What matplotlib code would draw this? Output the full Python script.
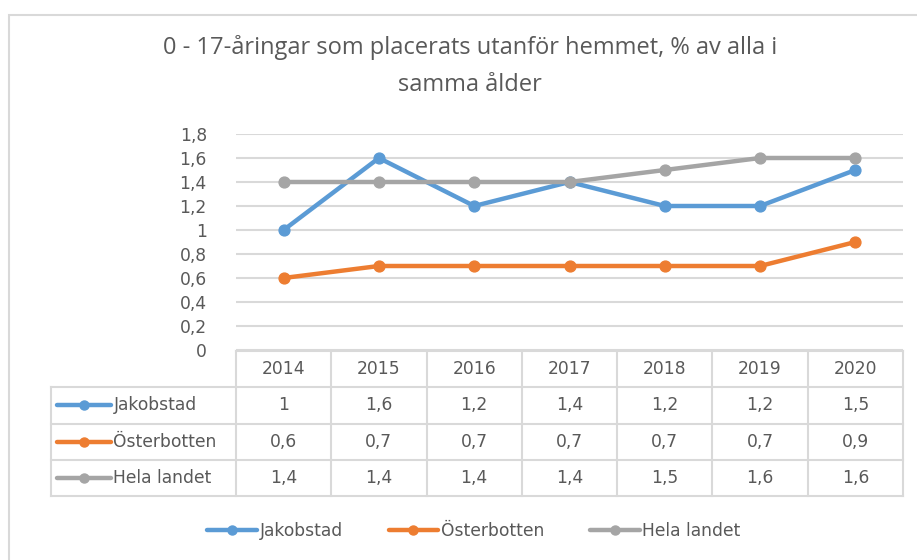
import matplotlib.pyplot as plt
from matplotlib.lines import Line2D

# placeringar utanför hemmet, andel av alla 0-17 år
years = [2014, 2015, 2016, 2017, 2018, 2019, 2020]
jakobstad = [1.0, 1.6, 1.2, 1.4, 1.2, 1.2, 1.5]
osterbotten = [0.6, 0.7, 0.7, 0.7, 0.7, 0.7, 0.9]
hela_landet = [1.4, 1.4, 1.4, 1.4, 1.5, 1.6, 1.6]

series = [("Jakobstad", jakobstad, "#5B9BD5"),
          ("Österbotten", osterbotten, "#ED7D31"),
          ("Hela landet", hela_landet, "#A5A5A5")]

txtcol = "#595959"
gridcol = "#D9D9D9"
W, H = 917, 560
fs = 12.3

def fx(px): return px / W
def fy(py): return 1 - py / H

def fmt(v):
    s = ("%g" % v).replace(".", ",")
    return s

fig = plt.figure(figsize=(9.17, 5.6), dpi=100)
plt.rcParams['font.family'] = ['DejaVu Sans']

# chart border
fig.add_artist(plt.Rectangle((fx(9), fy(600)), fx(917), fy(15) - fy(600),
                             transform=fig.transFigure, fill=False,
                             edgecolor=gridcol, linewidth=1.5))

fig.text(fx(470), fy(66), "0 - 17-åringar som placerats utanför hemmet, % av alla i\nsamma ålder",
         ha="center", va="center", fontsize=17, color=txtcol, family="Open Sans",
         linespacing=1.68)

ax = fig.add_axes([fx(236), fy(350), fx(903) - fx(236), fy(134) - fy(350)])
xs = list(range(len(years)))
for name, vals, col in series:
    ax.plot(xs, vals, color=col, linewidth=3.2, marker="o", markersize=7.8,
            solid_capstyle="round", zorder=3)
ax.set_xlim(-0.5, len(years) - 0.5)
ax.set_ylim(0, 1.8)
ax.set_yticks([i * 0.2 for i in range(10)])
ax.set_yticklabels([fmt(round(i * 0.2, 1)) for i in range(10)], fontsize=fs, color=txtcol)
ax.tick_params(axis="y", length=0, pad=21)
ax.set_xticks([])
ax.grid(axis="y", color=gridcol, linewidth=1.5)
for s in ax.spines.values():
    s.set_visible(False)

# data table under the plot
lab_w = (236 - 51) / ((903 - 236) / len(years))
tab = fig.add_axes([fx(51), fy(496), fx(903) - fx(51), fy(351) - fy(496)])
tab.set_xlim(-0.5 - lab_w, len(years) - 0.5)
tab.set_ylim(4, 0)
tab.axis("off")
lw = 1.5
left = -0.5 - lab_w
right = len(years) - 0.5
# horizontal lines
tab.plot([-0.5, right], [0, 0], color=gridcol, lw=lw, clip_on=False)
for r in range(1, 5):
    tab.plot([left, right], [r, r], color=gridcol, lw=lw, clip_on=False)
# vertical lines
tab.plot([left, left], [1, 4], color=gridcol, lw=lw, clip_on=False)
for i in range(len(years) + 1):
    tab.plot([i - 0.5, i - 0.5], [0, 4], color=gridcol, lw=lw, clip_on=False)

for i, yr in enumerate(years):
    tab.text(i, 0.5, str(yr), ha="center", va="center", fontsize=fs, color=txtcol)
for r, (name, vals, col) in enumerate(series, start=1):
    for i, v in enumerate(vals):
        tab.text(i, r + 0.5, fmt(v), ha="center", va="center", fontsize=fs, color=txtcol)
    k0 = left + 0.065
    k1 = k0 + 0.56
    tab.plot([k0, k1], [r + 0.5, r + 0.5], color=col, lw=3.2, solid_capstyle="round")
    tab.plot([(k0 + k1) / 2], [r + 0.5], "o", color=col, markersize=6.5)
    tab.text(k1 + 0.03, r + 0.5, name, ha="left", va="center", fontsize=fs, color=txtcol)

handles = [Line2D([], [], color=c, lw=3.2, marker="o", markersize=6.5, solid_capstyle="round")
           for _, _, c in series]
fig.legend(handles, [n for n, _, _ in series], loc="center",
           bbox_to_anchor=(fx(474), fy(531)), ncol=3, frameon=False,
           fontsize=fs, labelcolor=txtcol, handlelength=2.9,
           handletextpad=0.15, columnspacing=2.7)

fig.savefig("out.png", dpi=100)
